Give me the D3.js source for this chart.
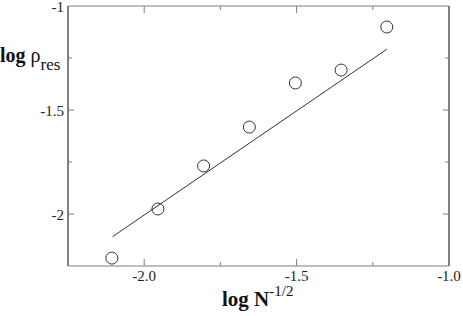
<!DOCTYPE html>
<html><head><meta charset="utf-8">
<script src="https://cdn.jsdelivr.net/npm/d3@7"></script>
<style>html,body{margin:0;padding:0;background:#fff;}svg{display:block;}</style>
</head><body>
<script>
// Data
const logInvSqrtN = [-2.106, -1.955, -1.805, -1.655, -1.504, -1.354, -1.204];
const logRhoRes   = [-2.212, -1.976, -1.769, -1.582, -1.370, -1.308, -1.101];
const fitX = [-2.104, -1.204];
const fitY = [-2.109, -1.208];
const xMajorTicks = [-2.0, -1.5, -1.0];
const xMinorTicks = [-1.75, -1.25];
const xTickLabels = ["-2.0", "-1.5", "-1.0"];
const yMajorTicks = [-2, -1.5, -1];
const yMinorTicks = [-1.75, -1.25];
const yTickLabels = ["-2", "-1.5", "-1"];

const W = 463, H = 316;
const L = 68, R = 449, T = 6, B = 266;
const x = d3.scaleLinear().domain([-2.25, -1]).range([L, R]);
const y = d3.scaleLinear().domain([-2.25, -1]).range([B, T]);

const svg = d3.select("body").append("svg").attr("width", W).attr("height", H);
const serif = "'Liberation Serif','DejaVu Serif',serif";
const gray = "#7f7f7f";

// frame
svg.append("line").attr("x1", L).attr("x2", R).attr("y1", T).attr("y2", T).attr("stroke", gray).attr("stroke-width", 1);
svg.append("line").attr("x1", L).attr("x2", R).attr("y1", B).attr("y2", B).attr("stroke", gray).attr("stroke-width", 1);
svg.append("line").attr("x1", L).attr("x2", L).attr("y1", T).attr("y2", B).attr("stroke", gray).attr("stroke-width", 2);
svg.append("line").attr("x1", R).attr("x2", R).attr("y1", T).attr("y2", B).attr("stroke", gray).attr("stroke-width", 2);

// ticks (inward)
const ticks = svg.append("g").attr("stroke", gray).attr("stroke-width", 1);
function xt(vals, len) {
  vals.forEach(v => {
    ticks.append("line").attr("x1", x(v)).attr("x2", x(v)).attr("y1", B).attr("y2", B - len);
    ticks.append("line").attr("x1", x(v)).attr("x2", x(v)).attr("y1", T).attr("y2", T + len);
  });
}
function yt(vals, len) {
  vals.forEach(v => {
    ticks.append("line").attr("y1", y(v)).attr("y2", y(v)).attr("x1", L).attr("x2", L + len);
    ticks.append("line").attr("y1", y(v)).attr("y2", y(v)).attr("x1", R).attr("x2", R - len);
  });
}
xt(xMajorTicks.filter(v => v < -1.01), 7);
xt(xMinorTicks, 4);
yt(yMajorTicks.filter(v => v < -1.01), 6);
yt(yMinorTicks, 4);

// tick labels
svg.append("g").selectAll("text").data(xMajorTicks).join("text")
  .attr("x", d => x(d)).attr("y", B + 15)
  .attr("text-anchor", "middle").attr("font-family", serif).attr("font-size", 15).attr("fill", "#222")
  .text((d, i) => xTickLabels[i]);
svg.append("g").selectAll("text").data(yMajorTicks).join("text")
  .attr("x", L - 4).attr("y", d => y(d) + 6)
  .attr("text-anchor", "end").attr("font-family", serif).attr("font-size", 15).attr("fill", "#222")
  .text((d, i) => yTickLabels[i]);

// fit line
const line = d3.line().x(d => x(d[0])).y(d => y(d[1]));
svg.append("path").datum(fitX.map((v, i) => [v, fitY[i]]))
  .attr("d", line).attr("fill", "none").attr("stroke", "#333").attr("stroke-width", 1);

// data circles
svg.append("g").selectAll("circle").data(logInvSqrtN).join("circle")
  .attr("cx", d => x(d)).attr("cy", (d, i) => y(logRhoRes[i])).attr("r", 6)
  .attr("fill", "none").attr("stroke", "#333").attr("stroke-width", 1);

// axis titles
const xt2 = svg.append("text").attr("x", 222).attr("y", 306)
  .attr("font-family", serif).attr("font-size", 21).attr("fill", "#111");
xt2.append("tspan").attr("font-weight", "bold").text("log N");
xt2.append("tspan").attr("font-size", 15).attr("dy", -10).text("-1/2");

const yt2 = svg.append("text").attr("x", 0).attr("y", 62)
  .attr("font-family", serif).attr("font-size", 20).attr("fill", "#111");
yt2.append("tspan").attr("font-weight", "bold").text("log ");
yt2.append("tspan").text("ρ");
yt2.append("tspan").attr("font-size", 17).attr("dy", 8).text("res");
</script>
</body></html>
